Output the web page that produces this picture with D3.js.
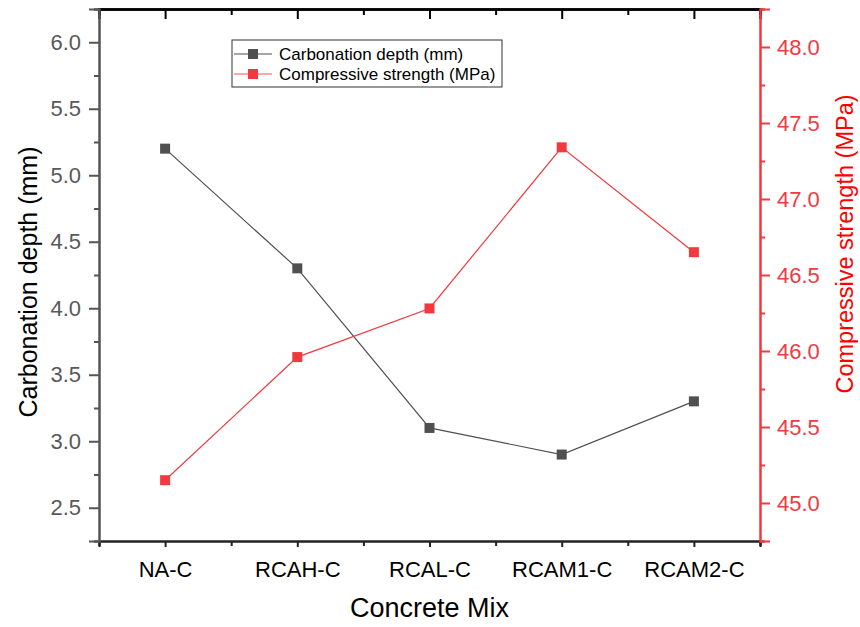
<!DOCTYPE html>
<html><head><meta charset="utf-8">
<script src="https://cdn.jsdelivr.net/npm/d3@7"></script>
<style>body{margin:0;background:#fff}svg{display:block;font-family:Arial,"Liberation Sans",sans-serif}</style>
</head><body><svg id="c" width="860" height="627"></svg>
<script>
const categories = ["NA-C","RCAH-C","RCAL-C","RCAM1-C","RCAM2-C"];
const carbonationDepth = [5.2, 4.3, 3.1, 2.9, 3.3];
const compressiveStrength = [45.15, 45.96, 46.28, 47.34, 46.65];
const leftTicks = [2.5,3.0,3.5,4.0,4.5,5.0,5.5,6.0];
const rightTicks = [45.0,45.5,46.0,46.5,47.0,47.5,48.0];
const seriesNames = ["Carbonation depth (mm)","Compressive strength (MPa)"];
const xTitle = "Concrete Mix";

const L=99, R=760, T=9, B=541;
const gray="#505050", red="#f2393f", axisGray="#555555";
const svg=d3.select("#c");
const x=d3.scaleLinear().domain([-0.5,4.5]).range([L,R]);
const yL=d3.scaleLinear().domain([2.25,6.25]).range([B,T]);
const yR=d3.scaleLinear().domain([44.75,48.25]).range([B,T]);

// top axis
const topAx=svg.append("g").attr("transform",`translate(0,${T})`)
  .call(d3.axisTop(x).tickValues(d3.range(5)).tickSize(-10).tickFormat(""));
topAx.append("g").call(d3.axisTop(x).tickValues(d3.range(-0.5,4.6,1)).tickSize(-6).tickFormat(""));
topAx.selectAll("path,line").attr("stroke","#000").attr("stroke-width",2);
topAx.selectAll(".domain").attr("stroke-width",2.5);

// bottom axis
const bot=svg.append("g").attr("transform",`translate(0,${B})`)
  .call(d3.axisBottom(x).tickValues(d3.range(5)).tickSize(6).tickPadding(14).tickFormat(i=>categories[i]));
bot.append("g").call(d3.axisBottom(x).tickValues(d3.range(-0.5,4.6,1)).tickSize(5).tickFormat(""));
bot.selectAll("path,line").attr("stroke","#222").attr("stroke-width",2);
bot.selectAll("text").attr("font-size",22).attr("fill","#000");

// left axis
const la=svg.append("g").attr("transform",`translate(${L},0)`)
  .call(d3.axisLeft(yL).tickValues(leftTicks).tickSize(10).tickPadding(8).tickFormat(d3.format(".1f")));
la.append("g").call(d3.axisLeft(yL).tickValues(d3.range(2.25,6.3,0.5)).tickSize(5).tickFormat(""));
la.selectAll("path,line").attr("stroke",axisGray).attr("stroke-width",2);
la.selectAll("text").attr("font-size",22).attr("fill","#595959");

// right axis
const ra=svg.append("g").attr("transform",`translate(${R},0)`)
  .call(d3.axisRight(yR).tickValues(rightTicks).tickSize(10).tickPadding(7).tickFormat(d3.format(".1f")));
ra.append("g").call(d3.axisRight(yR).tickValues(d3.range(44.75,48.3,0.5)).tickSize(5).tickFormat(""));
ra.selectAll("path,line").attr("stroke",red).attr("stroke-width",2);
ra.selectAll("text").attr("font-size",22).attr("fill",red);

// titles
svg.append("text").attr("x",(L+R)/2).attr("y",617).attr("text-anchor","middle")
  .attr("font-size",27).attr("fill","#000").text(xTitle);
svg.append("text").attr("transform",`translate(37,282) rotate(-90)`).attr("text-anchor","middle")
  .attr("font-size",25).attr("fill","#000").text(seriesNames[0]);
svg.append("text").attr("transform",`translate(853,244) rotate(-90)`).attr("text-anchor","middle")
  .attr("font-size",23.5).attr("fill","#ff0000").text(seriesNames[1]);

// series
function drawSeries(vals,yS,color){
  const pts=vals.map((v,i)=>[x(i),yS(v)]);
  svg.append("path").attr("d",d3.line()(pts)).attr("fill","none").attr("stroke",color).attr("stroke-width",1.2);
  svg.selectAll(null).data(pts).enter().append("rect")
    .attr("x",d=>d[0]-5).attr("y",d=>d[1]-5).attr("width",10).attr("height",10).attr("fill",color);
}
drawSeries(carbonationDepth,yL,gray);
drawSeries(compressiveStrength,yR,red);

// legend
const lg=svg.append("g");
lg.append("rect").attr("x",232).attr("y",40).attr("width",270).attr("height",47)
  .attr("fill","#fff").attr("stroke","#333").attr("stroke-width",1);
[[gray,"#888"],[red,"#f88"]].forEach((c,i)=>{
  const yy=54+i*20;
  lg.append("line").attr("x1",234).attr("x2",272).attr("y1",yy).attr("y2",yy).attr("stroke",c[1]).attr("stroke-width",1.5);
  lg.append("rect").attr("x",248).attr("y",yy-5).attr("width",10).attr("height",10).attr("fill",c[0]);
  lg.append("text").attr("x",279).attr("y",yy).attr("dy","0.35em").attr("font-size",17).attr("fill","#000").text(seriesNames[i]);
});
</script></body></html>
